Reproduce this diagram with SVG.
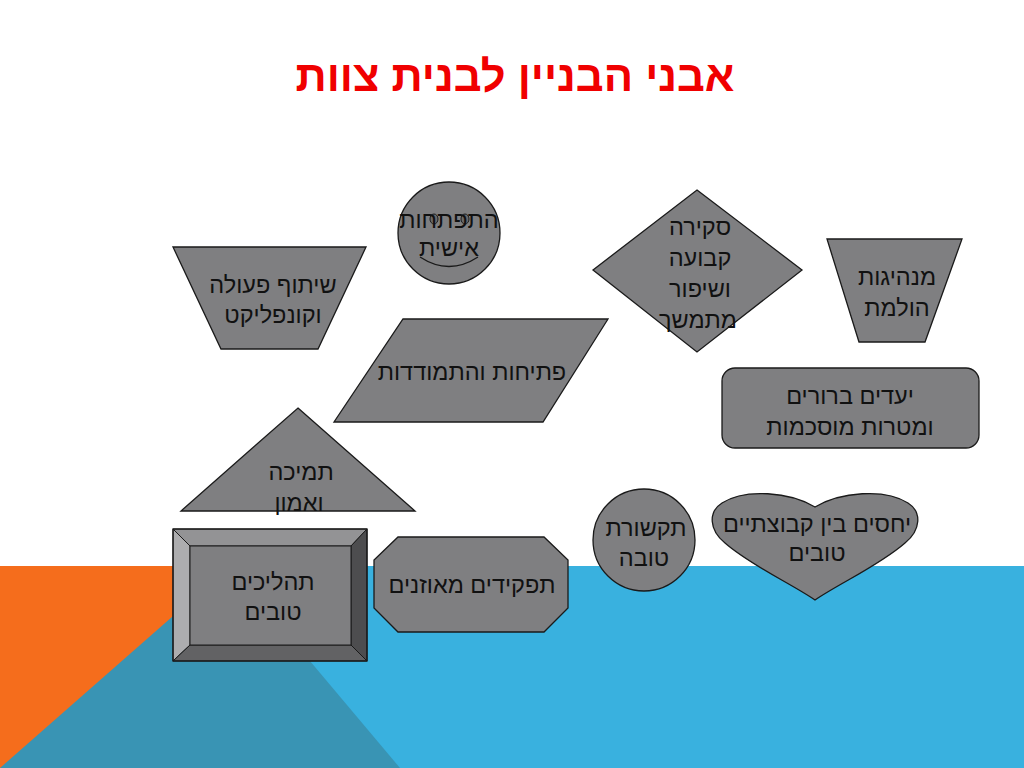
<svg xmlns="http://www.w3.org/2000/svg" width="1024" height="768" viewBox="0 0 1024 768">
<style>
.sh{fill:#7F7F81;stroke:#1a1a1a;stroke-width:1.3}
.t{font-family:"Liberation Sans","DejaVu Sans","Noto Sans",sans-serif;font-size:23.5px;fill:#111;text-anchor:middle}
.title{font-family:"Liberation Sans","DejaVu Sans",sans-serif;font-size:43.5px;font-weight:bold;fill:#F00000;text-anchor:middle}
</style>
<rect width="1024" height="768" fill="#ffffff"/>
<g id="background">
<rect x="0" y="566" width="240" height="202" fill="#F56D1C"/>
<rect x="200" y="566" width="824" height="202" fill="#39B1DF"/>
<polygon points="0,768 230,566 400,768" fill="#3994B4"/>
</g>
<text class="title" x="515" y="91">אבני הבניין לבנית צוות</text>
<g id="connectors"/>
<g id="node-personal-growth">
<circle class="sh" cx="449" cy="233" r="51"/>
<ellipse cx="434" cy="219" rx="4" ry="5" fill="#6a6a6c" stroke="#1a1a1a" stroke-width="1"/>
<ellipse cx="465" cy="219" rx="4" ry="5" fill="#6a6a6c" stroke="#1a1a1a" stroke-width="1"/>
<path d="M420,257 Q449,276 478,257" fill="none" stroke="#1a1a1a" stroke-width="1.3"/>
<text class="t" x="449" y="228">התפתחות</text>
<text class="t" x="449" y="256">אישית</text>
</g>
<g id="node-cooperation">
<polygon class="sh" points="173,247 366,247 318,349 221,349"/>
<text class="t" x="273" y="293">שיתוף פעולה</text>
<text class="t" x="273" y="323">וקונפליקט</text>
</g>
<g id="node-openness">
<polygon class="sh" points="403,319 608,319 543,422 334,422"/>
<text class="t" x="472" y="380">פתיחות והתמודדות</text>
</g>
<g id="node-support">
<polygon class="sh" points="298,408 415,511 181,511"/>
<text class="t" x="301" y="480">תמיכה</text>
<text class="t" x="299" y="511">ואמון</text>
</g>
<g id="node-review">
<polygon class="sh" points="697,190 802,270 697,352 593,270"/>
<text class="t" x="700" y="235">סקירה</text>
<text class="t" x="700" y="266">קבועה</text>
<text class="t" x="700" y="297">ושיפור</text>
<text class="t" x="698" y="328">מתמשך</text>
</g>
<g id="node-leadership">
<polygon class="sh" points="827,239 962,239 925,342 859,342"/>
<text class="t" x="897" y="285">מנהיגות</text>
<text class="t" x="897" y="316">הולמת</text>
</g>
<g id="node-goals">
<rect class="sh" x="722" y="368" width="257" height="80" rx="13"/>
<text class="t" x="850" y="404">יעדים ברורים</text>
<text class="t" x="850" y="435">ומטרות מוסכמות</text>
</g>
<g id="node-relations">
<path class="sh" d="M815,507 C840,492 885,488 908,503 C922,512 921,530 905,543 C880,565 840,583 815,600 C790,583 750,565 725,543 C709,530 708,512 722,503 C745,488 790,492 815,507 Z"/>
<text class="t" x="817" y="532">יחסים בין קבוצתיים</text>
<text class="t" x="817" y="561">טובים</text>
</g>
<g id="node-communication">
<circle class="sh" cx="644" cy="540" r="51"/>
<text class="t" x="646" y="536">תקשורת</text>
<text class="t" x="644" y="566">טובה</text>
</g>
<g id="node-roles">
<polygon class="sh" points="398,537 544,537 568,560 568,608 544,632 398,632 374,608 374,560"/>
<text class="t" x="472" y="593">תפקידים מאוזנים</text>
</g>
<g id="node-processes">
<polygon points="173,529 367,529 351,546 190,546" fill="#939395" stroke="#1a1a1a" stroke-width="1"/>
<polygon points="173,529 190,546 190,645 173,661" fill="#ADADAF" stroke="#1a1a1a" stroke-width="1"/>
<polygon points="367,529 367,661 351,645 351,546" fill="#4D4D4F" stroke="#1a1a1a" stroke-width="1"/>
<polygon points="173,661 190,645 351,645 367,661" fill="#626264" stroke="#1a1a1a" stroke-width="1"/>
<rect x="190" y="546" width="161" height="99" fill="#7F7F81" stroke="#1a1a1a" stroke-width="1"/>
<rect x="173" y="529" width="194" height="132" fill="none" stroke="#1a1a1a" stroke-width="1.3"/>
<text class="t" x="273" y="590">תהליכים</text>
<text class="t" x="273" y="620">טובים</text>
</g>
</svg>
